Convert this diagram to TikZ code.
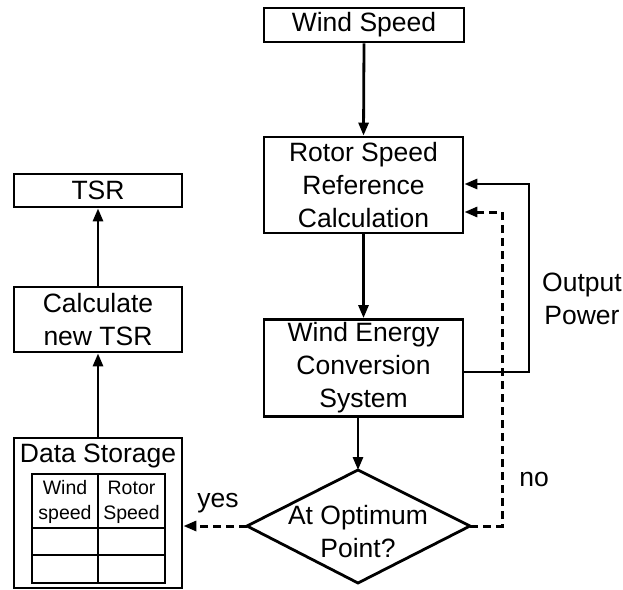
\documentclass[tikz,border=0pt]{standalone}
\usepackage{fontspec}
\setmainfont{Liberation Sans}
\usetikzlibrary{arrows.meta}
\begin{document}
\begin{tikzpicture}[x=1pt,y=-1pt,
  line width=2.8pt,
  font=\fontsize{26.5}{33}\selectfont,
  box/.style={draw, rectangle, inner sep=0pt, align=center},
  lbl/.style={inner sep=0pt, align=center},
  small/.style={inner sep=0pt, align=center, font=\fontsize{19.5}{25}\selectfont},
  arr/.style={-{Triangle[length=13pt,width=10pt]}},
  dsh/.style={dash pattern=on 8pt off 5pt, line width=3pt}
]
\useasboundingbox (0,0) rectangle (623,589);
% right column
\node[box, minimum width=200pt, minimum height=34pt] (wind) at (364,25) {Wind Speed};
\node[box, minimum width=199pt, minimum height=96pt] (rotor) at (363.5,185) {Rotor Speed\\Reference\\Calculation};
\node[box, minimum width=199pt, minimum height=97pt] (wecs) at (363.5,368) {Wind Energy\\Conversion\\System};
% decision diamond
\coordinate (dN) at (358,470);
\coordinate (dE) at (470,526);
\coordinate (dS) at (358,583);
\coordinate (dW) at (247,526);
\draw (dN) -- (dE) -- (dS) -- (dW) -- cycle;
\node[lbl] (dq) at (358,532) {At Optimum\\Point?};
% left column
\node[box, minimum width=168pt, minimum height=33pt] (tsr) at (98,190.5) {TSR};
\node[box, minimum width=168pt, minimum height=65pt] (calc) at (98,319.5) {Calculate\\new TSR};
\node[box, minimum width=168pt, minimum height=150pt] (store) at (98,513) {};
\node[lbl] (stitle) at (98,456) {Data Storage};
% table
\draw (32,474) rectangle (165,583);
\draw (98,474) -- (98,583);
\draw (32,528) -- (165,528);
\draw (32,555) -- (165,555);
\node[small] (c1) at (65,502) {Wind\\speed};
\node[small] (c2) at (131.5,502) {Rotor\\Speed};
% connectors
\draw[arr] (wind.south) -- (rotor.north);
\draw[arr] (rotor.south) -- (wecs.north);
\draw[arr] (wecs.south -| dN) -- (dN);
\coordinate (fb1) at (529,372);
\coordinate (fb2) at (529,184);
\draw[arr] (fb1 -| wecs.east) -- (fb1) -- (fb2) -- (fb2 -| rotor.east);
\coordinate (nb1) at (502,526);
\coordinate (nb2) at (502,212);
\draw[arr, dsh] (dE) -- (nb1) -- (nb2) -- (nb2 -| rotor.east);
\draw[arr, dsh] (dW) -- (dW -| store.east);
\draw[arr] (store.north) -- (calc.south);
\draw[arr] (calc.north) -- (tsr.south);
% labels
\node[lbl] (outp) at (582,299) {Output\\Power};
\node[lbl, anchor=base] (no) at (534,486) {no};
\node[lbl, anchor=base] (yes) at (218,507) {yes};
\end{tikzpicture}
\end{document}
